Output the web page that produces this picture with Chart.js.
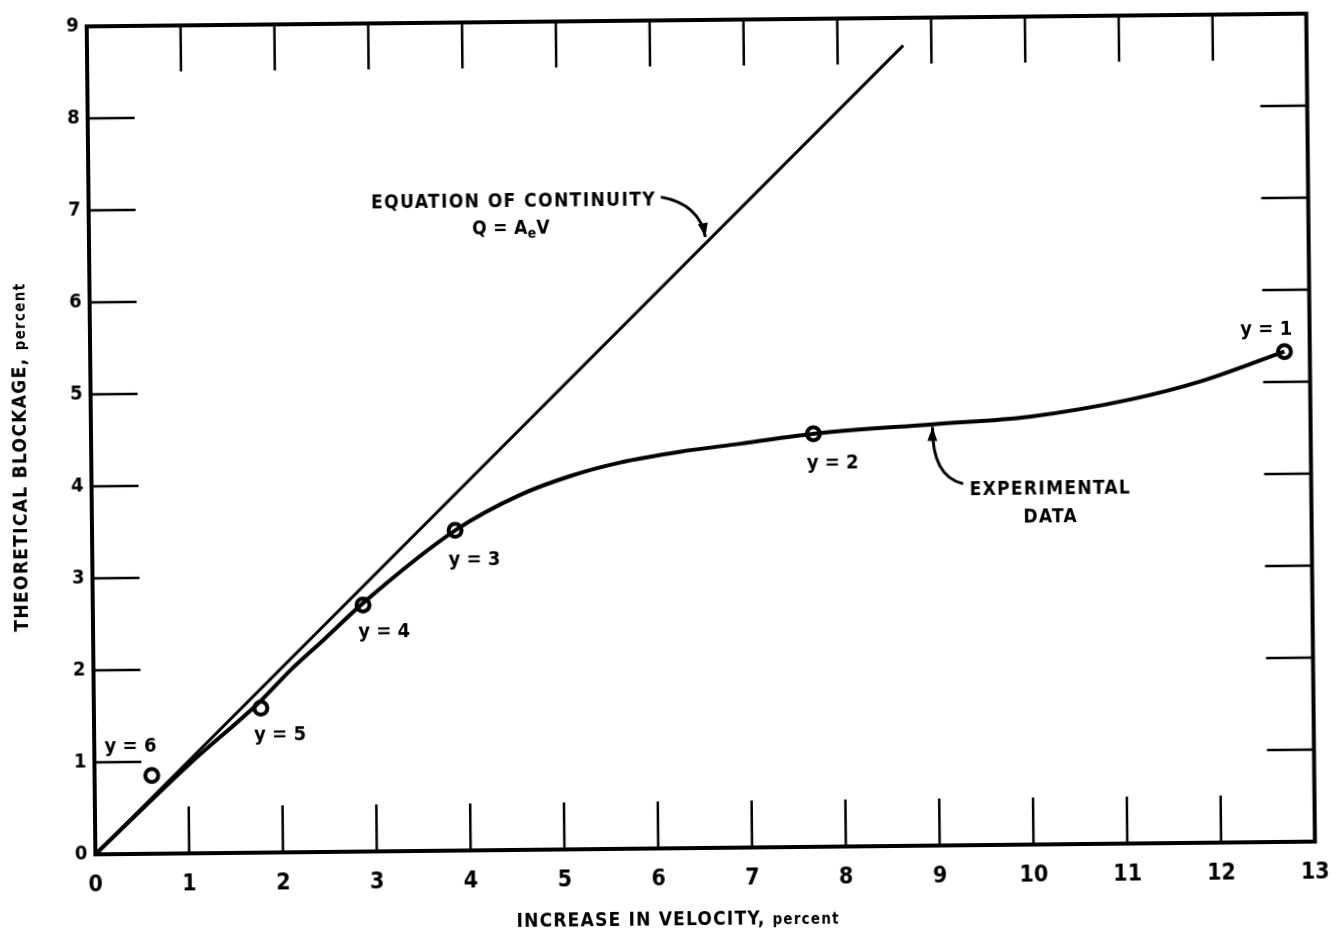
<!DOCTYPE html>
<html>
<head>
<meta charset="utf-8">
<script src="https://cdn.jsdelivr.net/npm/chart.js@4.4.0/dist/chart.umd.min.js"></script>
<style>
html, body { margin: 0; padding: 0; background: #fff; overflow: hidden; }
#wrap { width: 1342px; height: 933px; }
/* the scanned figure sits slightly tilted */
#chart { transform: rotate(-0.6deg); transform-origin: 701px 432px; }
</style>
</head>
<body>
<div id="wrap"><canvas id="chart" width="1342" height="933"></canvas></div>
<script>
// equation of continuity Q = AeV, a straight line y = x
var lineX = [0, 8.7];
var lineY = [0, 8.7];

// experimental curve
var curveX = [0, 1.0, 1.78, 2.1, 2.45, 2.88, 3.87, 4.57, 5.11, 5.64, 6.28, 6.92, 7.70, 8.98, 10.0, 11.1, 11.85, 12.73];
var curveY = [0, 0.96, 1.65, 1.98, 2.3, 2.70, 3.48, 3.86, 4.06, 4.20, 4.31, 4.39, 4.49, 4.58, 4.65, 4.83, 5.02, 5.33];

// measured points
var pointX = [0.61, 1.78, 2.88, 3.87, 7.70, 12.73];
var pointY = [0.85, 1.57, 2.68, 3.48, 4.49, 5.33];
var pointLabels = ['y = 6', 'y = 5', 'y = 4', 'y = 3', 'y = 2', 'y = 1'];

var xTicks = [0, 1, 2, 3, 4, 5, 6, 7, 8, 9, 10, 11, 12, 13];
var yTicks = [0, 1, 2, 3, 4, 5, 6, 7, 8, 9];

var FONT = "'Liberation Sans Narrow', 'Arial Narrow', 'DejaVu Sans Condensed', sans-serif";

// where each label sits relative to its point (px)
var labelOffsets = [[-21, -31], [19, 25], [21, 26], [19, 28], [19, 28], [-18, -24]];

function toPts(xs, ys) {
	var out = [];
	for (var i = 0; i < xs.length; i++) out.push({x: xs[i], y: ys[i]});
	return out;
}

// draw a line of text made of several runs (different sizes), centred on cx
function drawRuns(ctx, runs, cx, baseline, spacing) {
	var total = 0;
	ctx.letterSpacing = (spacing || 0) + 'px';
	runs.forEach(function(r) {
		ctx.font = 'bold ' + r.size + 'px ' + FONT;
		r.w = ctx.measureText(r.text).width;
		total += r.w;
	});
	var x = cx - total / 2;
	ctx.textAlign = 'left';
	ctx.textBaseline = 'alphabetic';
	runs.forEach(function(r) {
		ctx.font = 'bold ' + r.size + 'px ' + FONT;
		ctx.fillText(r.text, x, baseline + (r.dy || 0));
		x += r.w;
	});
	ctx.letterSpacing = '0px';
}

function curvedArrow(ctx, p0, c, p1) {
	ctx.beginPath();
	ctx.moveTo(p0.x, p0.y);
	ctx.quadraticCurveTo(c.x, c.y, p1.x, p1.y);
	ctx.lineWidth = 3;
	ctx.stroke();
	var a = Math.atan2(p1.y - c.y, p1.x - c.x);
	var len = 14, half = 5;
	ctx.beginPath();
	ctx.moveTo(p1.x, p1.y);
	ctx.lineTo(p1.x - len * Math.cos(a) + half * Math.sin(a), p1.y - len * Math.sin(a) - half * Math.cos(a));
	ctx.lineTo(p1.x - len * Math.cos(a) - half * Math.sin(a), p1.y - len * Math.sin(a) + half * Math.cos(a));
	ctx.closePath();
	ctx.fill();
}

var framePlugin = {
	id: 'frame',
	beforeDatasetsDraw: function(chart) {
		var ctx = chart.ctx, a = chart.chartArea;
		var xs = chart.scales.x, ys = chart.scales.y;
		ctx.save();
		ctx.strokeStyle = '#000';
		ctx.lineCap = 'butt';
		// inside ticks on all four sides
		ctx.lineWidth = 2.5;
		ctx.beginPath();
		xTicks.slice(1, -1).forEach(function(v) {
			var px = xs.getPixelForValue(v);
			ctx.moveTo(px, a.bottom); ctx.lineTo(px, a.bottom - 47);
			ctx.moveTo(px, a.top); ctx.lineTo(px, a.top + 46);
		});
		yTicks.slice(1, -1).forEach(function(v) {
			var py = ys.getPixelForValue(v);
			ctx.moveTo(a.left, py); ctx.lineTo(a.left + 47, py);
			ctx.moveTo(a.right, py); ctx.lineTo(a.right - 47, py);
		});
		ctx.stroke();
		ctx.lineWidth = 4;
		ctx.strokeRect(a.left, a.top, a.right - a.left, a.bottom - a.top);
		ctx.restore();
	},
	afterDatasetsDraw: function(chart) {
		var ctx = chart.ctx, a = chart.chartArea;
		var xs = chart.scales.x, ys = chart.scales.y;
		function P(x, y) { return {x: xs.getPixelForValue(x), y: ys.getPixelForValue(y)}; }
		ctx.save();
		ctx.fillStyle = '#000';
		ctx.strokeStyle = '#000';

		// point labels
		var meta = chart.getDatasetMeta(2);
		meta.data.forEach(function(el, i) {
			var o = labelOffsets[i];
			drawRuns(ctx, [{text: pointLabels[i], size: 20}], el.x + o[0], el.y + o[1] + 7, 0);
		});

		// equation of continuity note
		var t1 = P(4.53, 7.06);
		drawRuns(ctx, [{text: 'EQUATION OF CONTINUITY', size: 19}], t1.x, t1.y + 7, 1.4);
		var t2 = P(4.5, 6.77);
		drawRuns(ctx, [{text: 'Q = A', size: 19}, {text: 'e', size: 14, dy: 4}, {text: 'V', size: 19}], t2.x, t2.y + 7, 0.3);
		curvedArrow(ctx, P(6.1, 7.08), P(6.51, 7.0), P(6.57, 6.64));

		// experimental data note
		var t3 = P(10.22, 3.88);
		drawRuns(ctx, [{text: 'EXPERIMENTAL', size: 19}], t3.x, t3.y + 7, 1.3);
		var t4 = P(10.22, 3.58);
		drawRuns(ctx, [{text: 'DATA', size: 19}], t4.x, t4.y + 7, 1.3);
		curvedArrow(ctx, P(9.29, 3.93), P(8.96, 4.01), P(8.97, 4.55));

		// axis titles
		drawRuns(ctx, [{text: 'INCREASE IN VELOCITY, ', size: 19}, {text: 'percent', size: 15}], 673, 925, 1.2);
		ctx.translate(26, 450);
		ctx.rotate(-Math.PI / 2);
		drawRuns(ctx, [{text: 'THEORETICAL BLOCKAGE, ', size: 19}, {text: 'percent', size: 15}], 0, 0, 1.3);
		ctx.restore();
	}
};

var ctx = document.getElementById('chart').getContext('2d');
var chart = new Chart(ctx, {
	type: 'scatter',
	data: {
		datasets: [{
			label: 'Equation of continuity',
			data: toPts(lineX, lineY),
			showLine: true,
			borderColor: '#000',
			borderWidth: 3,
			pointRadius: 0
		}, {
			label: 'Experimental data',
			data: toPts(curveX, curveY),
			showLine: true,
			borderColor: '#000',
			borderWidth: 4,
			pointRadius: 0,
			cubicInterpolationMode: 'monotone'
		}, {
			label: 'Measured points',
			data: toPts(pointX, pointY),
			showLine: false,
			pointRadius: 6.5,
			pointBorderWidth: 4,
			pointBackgroundColor: '#fff',
			pointBorderColor: '#000'
		}]
	},
	options: {
		responsive: false,
		animation: false,
		devicePixelRatio: 1,
		layout: { padding: { top: 16, right: 31, left: 0, bottom: 0 } },
		plugins: { legend: { display: false }, tooltip: { enabled: false } },
		scales: {
			x: {
				type: 'linear', min: 0, max: 13,
				grid: { display: false, drawTicks: false },
				border: { display: false },
				ticks: { stepSize: 1, padding: 17, color: '#000', font: { family: FONT, size: 23, weight: 'bold' } },
				afterFit: function(s) { s.height = 85; }
			},
			y: {
				type: 'linear', min: 0, max: 9,
				grid: { display: false, drawTicks: false },
				border: { display: false },
				ticks: { stepSize: 1, padding: 8, color: '#000', font: { family: FONT, size: 20, weight: 'bold' } },
				afterFit: function(s) { s.width = 91; }
			}
		}
	},
	plugins: [framePlugin]
});
</script>
</body>
</html>
